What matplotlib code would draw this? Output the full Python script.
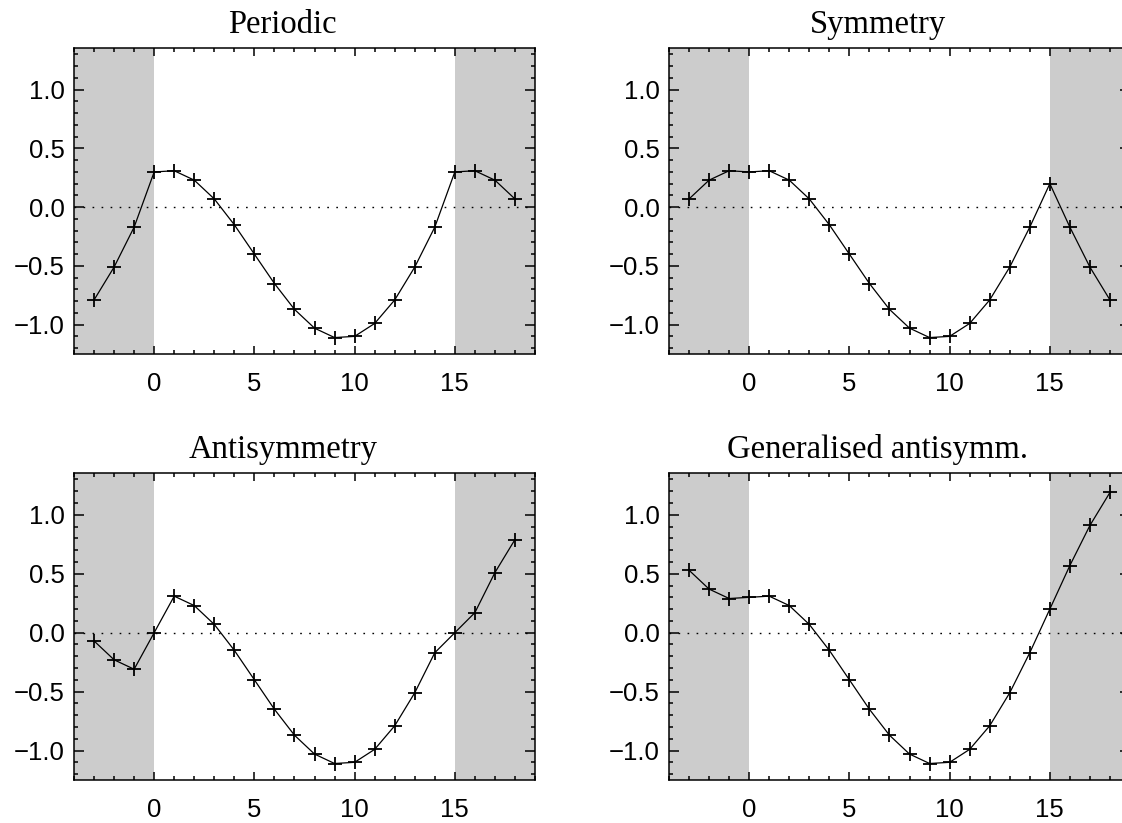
import numpy as np
import matplotlib
matplotlib.use("Agg")
import matplotlib.pyplot as plt
from matplotlib.ticker import MultipleLocator

# sample positions (interior 0..15 plus three ghost points each side)
x = np.arange(-3, 19)

periodic = [-0.79, -0.51, -0.17,
            0.30, 0.31, 0.23, 0.07, -0.15, -0.40, -0.65, -0.87, -1.03, -1.11,
            -1.10, -0.99, -0.79, -0.51, -0.17,
            0.30, 0.31, 0.23, 0.07]
symmetry = [0.07, 0.23, 0.31,
            0.30, 0.31, 0.23, 0.07, -0.15, -0.40, -0.65, -0.87, -1.03, -1.11,
            -1.10, -0.99, -0.79, -0.51, -0.17,
            0.20, -0.17, -0.51, -0.79]
antisymmetry = [-0.07, -0.23, -0.31,
                0.00, 0.31, 0.23, 0.07, -0.15, -0.40, -0.65, -0.87, -1.03, -1.11,
                -1.10, -0.99, -0.79, -0.51, -0.17,
                0.00, 0.17, 0.51, 0.79]
gen_antisymm = [0.53, 0.37, 0.29,
                0.30, 0.31, 0.23, 0.07, -0.15, -0.40, -0.65, -0.87, -1.03, -1.11,
                -1.10, -0.99, -0.79, -0.51, -0.17,
                0.20, 0.57, 0.91, 1.19]

titles = ["Periodic", "Symmetry", "Antisymmetry", "Generalised antisymm."]
series = [periodic, symmetry, antisymmetry, gen_antisymm]

W, H = 1122, 823
fig = plt.figure(figsize=(W / 100, H / 100), dpi=100)

# axes boxes in pixels: left, top, right, bottom
boxes = [(74, 48, 535, 354), (669, 48, 1130, 354),
         (74, 473, 535, 780), (669, 473, 1130, 780)]

for (l, t, r, b), title, y in zip(boxes, titles, series):
    ax = fig.add_axes([l / W, 1 - b / H, (r - l) / W, (b - t) / H])
    ax.set_xlim(-4, 19)
    ax.set_ylim(-1.25, 1.355)

    # boundary regions
    ax.axvspan(-4, 0, color="#cccccc", lw=0, zorder=0)
    ax.axvspan(15, 19, color="#cccccc", lw=0, zorder=0)
    ax.axhline(0, color="black", lw=1.0, linestyle=(0, (1.2, 5.3)), zorder=1)

    ax.plot(x, y, color="black", lw=0.9, marker="+", markersize=10.5,
            markeredgewidth=1.3, zorder=3, clip_on=False)

    ax.xaxis.set_major_locator(MultipleLocator(5))
    ax.xaxis.set_minor_locator(MultipleLocator(1))
    ax.yaxis.set_major_locator(MultipleLocator(0.5))
    ax.yaxis.set_minor_locator(MultipleLocator(0.1))
    ax.tick_params(which="both", direction="in", top=True, right=True,
                   width=1.1, color="black")
    ax.tick_params(axis="x", which="major", length=5.5, pad=13)
    ax.tick_params(axis="y", which="major", length=7, pad=6.5)
    ax.tick_params(which="minor", length=3)
    ax.set_yticks([-1.0, -0.5, 0.0, 0.5, 1.0])
    ax.set_yticklabels(["\u22121.0", "\u22120.5", "0.0", "0.5", "1.0"])
    for lab in ax.get_xticklabels() + ax.get_yticklabels():
        lab.set_fontfamily("Liberation Sans")
        lab.set_fontsize(18.5)
    for sp in ax.spines.values():
        sp.set_linewidth(1.1)

    ax.text(0.453, 1.048, title, transform=ax.transAxes, ha="center",
            va="baseline", fontsize=23.5, family="Liberation Serif")

fig.savefig("out.png", dpi=100)
